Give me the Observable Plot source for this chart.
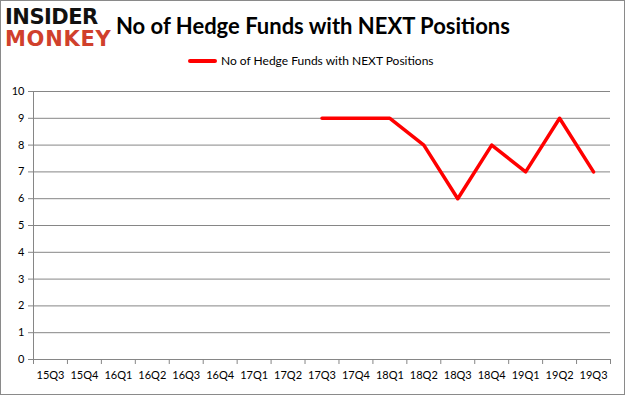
<!DOCTYPE html>
<html><head><meta charset="utf-8">
<script src="https://cdn.jsdelivr.net/npm/d3@7"></script>
<script src="https://cdn.jsdelivr.net/npm/@observablehq/plot@0.6"></script>
<style>
body{margin:0;background:#fff;}
#wrap{position:relative;width:625px;height:395px;overflow:hidden;background:#fff;font-family:Lato,"Open Sans",sans-serif;}
#frame{position:absolute;left:0;top:0;width:623px;height:393px;border:1px solid #8a8a8a;pointer-events:none;}
#logo1,#logo2{position:absolute;left:5px;font-family:"DejaVu Sans",sans-serif;font-weight:bold;font-size:21px;line-height:21px;}
#logo1{top:7px;color:#111;letter-spacing:-0.5px;}
#logo2{top:29px;color:#d0402c;letter-spacing:0.7px;}
#title{position:absolute;left:116px;top:12px;font-family:Lato,sans-serif;font-weight:bold;font-size:22px;line-height:28px;color:#000;white-space:nowrap;}
#legend{position:absolute;left:188px;top:53px;font-size:12px;line-height:16px;color:#000;white-space:nowrap;display:flex;align-items:center;}
#legend .sw{display:inline-block;width:29px;height:4px;background:#ff0000;border-radius:2px;margin-right:4px;}
#chart{position:absolute;left:0;top:0;}
</style></head>
<body>
<div id="wrap">
  <div id="chart"></div>
  <div id="logo1">INSIDER</div>
  <div id="logo2">MONKEY</div>
  <div id="title">No of Hedge Funds with NEXT Positions</div>
  <div id="legend"><span class="sw"></span><span>No of Hedge Funds with NEXT Positions</span></div>
  <div id="frame"></div>
</div>
<script>
const quarters = ["15Q3","15Q4","16Q1","16Q2","16Q3","16Q4","17Q1","17Q2","17Q3","17Q4","18Q1","18Q2","18Q3","18Q4","19Q1","19Q2","19Q3"];
const funds = [null,null,null,null,null,null,null,null,9,9,9,8,6,8,7,9,7];
const yTicks = [0,1,2,3,4,5,6,7,8,9,10];

const data = quarters.map((q,i)=>({i, q, v: funds[i]})).filter(d=>d.v!=null);
const edges = d3.range(quarters.length+1);
const centers = quarters.map((q,i)=>i+0.5);

const chart = Plot.plot({
  width: 625,
  height: 395,
  marginTop: 91,
  marginBottom: 36,
  marginLeft: 33,
  marginRight: 15,
  style: {fontFamily: "Lato, sans-serif", fontSize: "11px", color: "#000", background: "transparent"},
  x: {domain: [0, quarters.length], label: null},
  y: {domain: [0, 10], label: null},
  marks: [
    Plot.gridY(yTicks, {stroke: "#868686", strokeOpacity: 1}),
    Plot.ruleX([0], {stroke: "#868686"}),
    Plot.axisY(yTicks, {tickSize: 5, tickPadding: 4, stroke: "#868686", fill: "#000", tickFormat: d=>String(d), fontSize: 11}),
    Plot.axisX(edges, {tickSize: 5, tickFormat: ()=>"", stroke: "#868686"}),
    Plot.axisX(centers, {tickSize: 0, tickPadding: 12, tickFormat: d=>quarters[Math.floor(d)], fill: "#000", fontSize: 11}),
    Plot.line(data, {x: d=>d.i+0.5, y: "v", stroke: "#ff0000", strokeWidth: 3.5, strokeLinejoin: "round"})
  ]
});
document.getElementById("chart").appendChild(chart);
</script>
</body></html>
